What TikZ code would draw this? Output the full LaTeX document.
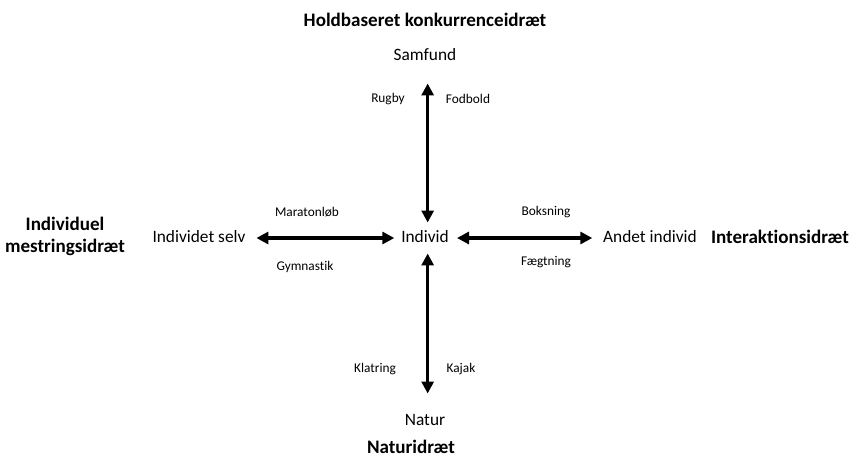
\documentclass[tikz,border=0pt]{standalone}
\usepackage{fontspec}
\setmainfont{Carlito}[Ligatures=NoCommon]
\usepackage{tikz}
\usetikzlibrary{arrows.meta,positioning}

\tikzset{
  pole/.style = {font=\fontsize{13}{15}\selectfont, inner sep=2pt, text height=1.6ex, text depth=0.25ex},
  sport/.style = {font=\fontsize{10}{12}\selectfont, inner sep=1pt},
  heading/.style = {font=\bfseries\fontsize{14.3}{16.5}\selectfont, align=center, inner sep=1pt},
  axis/.style = {{Triangle[length=9pt,width=9pt]}-{Triangle[length=9pt,width=9pt]}, line width=2.6pt}
}

\begin{document}
\begin{tikzpicture}[x=0.75pt,y=-0.75pt]
			\useasboundingbox (0,0) rectangle (851,458);

			% poles
			\node[pole] (individ) at (425,238) {Individ};
			\node[pole] (samfund) at (425,56) {Samfund};
			\node[pole] (natur) at (425,421) {Natur};
			\node[pole] (selv) at (199,238) {Individet selv};
			\node[pole] (andet) at (650,238) {Andet individ};

			% headings
			\node[heading] (hold) at (425,20) {Holdbaseret konkurrenceidræt};
			\node[heading] (naturh) at (411,447) {Naturidræt};
			\node[heading] (indiv) at (65,236) {Individuel\\mestringsidræt};
			\node[heading] (inter) at (780,237) {Interaktionsidræt};

			% arrows
			\draw[axis,shorten <=14pt,shorten >=5pt] ([xshift=2pt]samfund.south) -- ([xshift=2pt]individ.north);
			\draw[axis,shorten <=5pt,shorten >=14pt] ([xshift=2pt]individ.south) -- ([xshift=2pt]natur.north);
			\draw[axis,shorten <=6pt,shorten >=3pt] (selv.east) -- (individ.west);
			\draw[axis,shorten <=4pt,shorten >=6pt] (individ.east) -- (andet.west);

			% sports
			\node[sport] (rugby) at (388,99) {Rugby};
			\node[sport] (fodbold) at (468,99) {Fodbold};
			\node[sport] (maraton) at (307,212) {Maratonløb};
			\node[sport] (gymn) at (305,267) {Gymnastik};
			\node[sport] (boks) at (546,212) {Boksning};
			\node[sport] (faegt) at (546,262) {Fægtning};
			\node[sport] (klatr) at (375,369) {Klatring};
			\node[sport] (kajak) at (461,369) {Kajak};

		\end{tikzpicture}
\end{document}
